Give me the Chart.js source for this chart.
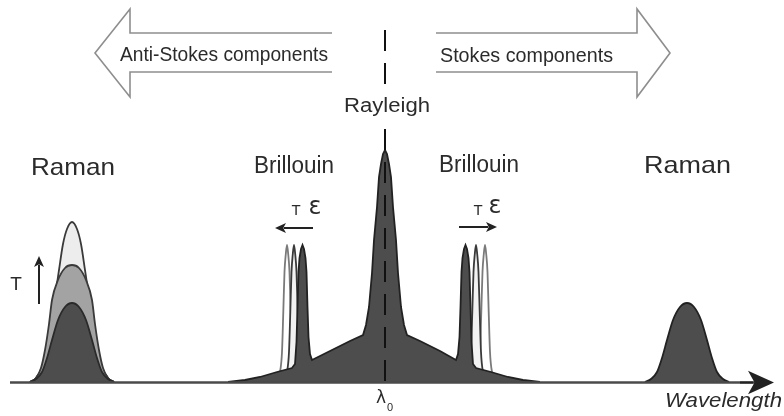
<!DOCTYPE html>
<html>
<head>
<meta charset="utf-8">
<script src="https://cdn.jsdelivr.net/npm/chart.js@4.4.1/dist/chart.umd.min.js"></script>
<style>
html, body { margin: 0; padding: 0; background: #fff; }
canvas { display: block; }
</style>
</head>
<body>
<canvas id="spectrum" width="784" height="416"></canvas>
<script>
// Raman anti-Stokes : trois températures (x = position en longueur d'onde, y = intensité)
const ramanAsHotX = [30, 36, 42, 47, 51, 55, 59, 63, 67, 72, 77, 81, 85, 89, 93, 97, 102, 108, 114];
const ramanAsHotY = [0, 4, 15, 36, 60, 85, 112, 138, 153, 160, 153, 138, 112, 85, 60, 36, 15, 4, 0];
const ramanAsMidX = [30, 36, 41, 45, 49, 52, 58, 65, 72, 79, 86, 92, 95, 99, 103, 108, 114];
const ramanAsMidY = [0, 4, 14, 32, 58, 82, 102, 114, 117, 114, 102, 82, 58, 32, 14, 4, 0];
const ramanAsColdX = [30, 36, 42, 47, 52, 58, 65, 72, 79, 86, 92, 97, 102, 108, 114];
const ramanAsColdY = [0, 3, 10, 24, 42, 62, 75, 79, 75, 62, 42, 24, 10, 3, 0];

// Raman Stokes
const ramanStX = [645, 651, 657, 662, 667, 673, 680, 687, 694, 701, 707, 712, 717, 723, 729];
const ramanStY = [0, 3, 10, 24, 42, 62, 75, 79, 75, 62, 42, 24, 10, 3, 0];

// Rayleigh + Brillouin (pic central, piédestal, pics Brillouin sombres)
const centralX = [228, 245, 260, 277, 292, 295, 296.5, 297.5, 298.5, 299.5, 301, 302.5, 304, 305.5, 306.5, 307.5, 308.5, 310, 312,
  330, 350, 363, 366, 369, 372, 374, 377, 379, 381, 383, 385, 387, 389, 391, 393, 396, 398, 401, 404, 407, 420, 440,
  456, 458, 459.5, 460.5, 461.5, 462.5, 464, 465.5, 467, 468.5, 469.5, 470.5, 471.5, 473, 476, 491, 508, 523, 540];
const centralY = [0, 2, 5, 10, 14, 18, 40, 75, 110, 124, 133, 137, 133, 124, 110, 75, 45, 28, 22,
  31, 41, 47, 57, 75, 109, 142, 175, 205, 218, 228, 232, 228, 218, 205, 175, 142, 109, 75, 57, 47, 41, 31,
  22, 28, 45, 75, 110, 124, 133, 137, 133, 124, 110, 75, 40, 18, 14, 10, 5, 2, 0];

// Pics Brillouin décalés (T, ε)
const brillPeakY = [0, 10, 30, 70, 110, 128, 137, 128, 110, 70, 30, 10, 0];
const brillAsFarX = [276, 280, 282, 283.3, 284.5, 285.8, 287, 288.2, 289.5, 290.7, 292, 294, 298];
const brillAsNearX = [283, 287, 289, 290.3, 291.5, 292.8, 294, 295.2, 296.5, 297.7, 299, 301, 305];
const brillStNearX = [465, 469, 471, 472.3, 473.5, 474.8, 476, 477.2, 478.5, 479.7, 481, 483, 487];
const brillStFarX = [474, 478, 480, 481.3, 482.5, 483.8, 485, 486.2, 487.5, 488.7, 490, 492, 496];

const rayleighPos = 385;
const texts = {
  antiStokes: 'Anti-Stokes components',
  stokes: 'Stokes components',
  rayleigh: 'Rayleigh',
  raman: 'Raman',
  brillouin: 'Brillouin',
  axis: 'Wavelength'
};

function pts(xs, ys) {
  return xs.map((x, i) => ({ x: x, y: ys[i] }));
}

function curve(xs, ys, fill, line, order, width) {
  return {
    data: pts(xs, ys),
    backgroundColor: fill,
    borderColor: line,
    borderWidth: width || 1.8,
    fill: 'origin',
    order: order
  };
}

// Texte ajusté à une largeur donnée
function fitText(ctx, str, cx, base, size, width, style, family) {
  ctx.save();
  ctx.font = (style || '') + ' ' + size + 'px ' + (family || '"Liberation Sans", Arial, sans-serif');
  const w = ctx.measureText(str).width;
  ctx.translate(cx, base);
  if (width) ctx.scale(width / w, 1);
  ctx.textAlign = 'center';
  ctx.textBaseline = 'alphabetic';
  ctx.fillStyle = '#2b2b2b';
  ctx.fillText(str, 0, 0);
  ctx.restore();
}

function bigArrow(ctx, p) {
  ctx.save();
  ctx.strokeStyle = '#8e8e8e';
  ctx.lineWidth = 1.6;
  ctx.lineJoin = 'miter';
  ctx.beginPath();
  ctx.moveTo(p[0][0], p[0][1]);
  for (let i = 1; i < p.length; i++) ctx.lineTo(p[i][0], p[i][1]);
  ctx.stroke();
  ctx.restore();
}

function smallArrow(ctx, x1, y1, x2, y2, head) {
  const a = Math.atan2(y2 - y1, x2 - x1);
  ctx.save();
  ctx.strokeStyle = '#222';
  ctx.fillStyle = '#222';
  ctx.lineWidth = 2;
  ctx.beginPath();
  ctx.moveTo(x1, y1);
  ctx.lineTo(x2 - Math.cos(a) * head * 0.8, y2 - Math.sin(a) * head * 0.8);
  ctx.stroke();
  ctx.translate(x2, y2);
  ctx.rotate(a);
  ctx.beginPath();
  ctx.moveTo(0, 0);
  ctx.lineTo(-head, -head * 0.45);
  ctx.lineTo(-head * 0.75, 0);
  ctx.lineTo(-head, head * 0.45);
  ctx.closePath();
  ctx.fill();
  ctx.restore();
}

const decor = {
  id: 'decor',
  beforeDraw(chart) {
    const ctx = chart.ctx;
    ctx.save();
    ctx.fillStyle = '#fff';
    ctx.fillRect(0, 0, chart.width, chart.height);
    ctx.restore();
  },
  afterDatasetsDraw(chart) {
    const ctx = chart.ctx;
    const xs = chart.scales.x, ys = chart.scales.y;
    const y0 = ys.getPixelForValue(0);

    // axe des longueurs d'onde
    ctx.save();
    ctx.strokeStyle = '#4a4a4a';
    ctx.lineWidth = 2.5;
    ctx.beginPath();
    ctx.moveTo(xs.getPixelForValue(10), y0 + 0.5);
    ctx.lineTo(xs.getPixelForValue(760), y0 + 0.5);
    ctx.stroke();
    ctx.restore();
    smallArrow(ctx, 740, y0 + 0.5, 774, y0 + 0.5, 26);

    // ligne pointillée Rayleigh
    const xr = xs.getPixelForValue(rayleighPos);
    ctx.save();
    ctx.strokeStyle = '#111';
    ctx.lineWidth = 2;
    ctx.setLineDash([21, 12]);
    ctx.beginPath();
    ctx.moveTo(xr, 30);
    ctx.lineTo(xr, y0);
    ctx.stroke();
    ctx.restore();
  },
  afterDraw(chart) {
    const ctx = chart.ctx;

    // flèches creuses
    bigArrow(ctx, [[332, 33], [130, 33], [130, 9], [95, 53], [130, 97], [130, 72], [332, 72]]);
    bigArrow(ctx, [[436, 33], [637, 33], [637, 9], [670, 53], [637, 97], [637, 72], [436, 72]]);

    fitText(ctx, texts.antiStokes, 224, 61, 21, 208);
    fitText(ctx, texts.stokes, 526.5, 62, 21, 173);

    ctx.save();
    ctx.fillStyle = '#fff';
    ctx.fillRect(340, 88, 92, 34);
    ctx.restore();
    fitText(ctx, texts.rayleigh, 387, 112, 20, 86);

    fitText(ctx, texts.raman, 73, 175, 24, 84);
    fitText(ctx, texts.brillouin, 294, 173, 23, 80);
    fitText(ctx, texts.brillouin, 479, 172, 23, 80);
    fitText(ctx, texts.raman, 687.5, 173, 24, 87);

    // T, ε
    fitText(ctx, 'T', 296, 215, 15);
    fitText(ctx, 'ε', 315, 214, 24, null, '', '"DejaVu Sans", sans-serif');
    smallArrow(ctx, 313, 228, 275, 228, 11);
    fitText(ctx, 'T', 478, 215, 15);
    fitText(ctx, 'ε', 495, 213, 24, null, '', '"DejaVu Sans", sans-serif');
    smallArrow(ctx, 459, 227, 497, 227, 11);

    fitText(ctx, 'T', 16, 290, 19);
    smallArrow(ctx, 39, 304, 39, 256, 11);

    fitText(ctx, texts.axis, 723.5, 407, 21, 117, 'italic');
    fitText(ctx, 'λ', 381, 403, 17, null, '', '"DejaVu Sans", sans-serif');
    fitText(ctx, '0', 390, 411, 11);
  }
};

const centralSet = curve(centralX, centralY, '#4d4d4d', '#222222', 1);
centralSet.tension = 0;
centralSet.cubicInterpolationMode = 'default';

new Chart(document.getElementById('spectrum'), {
  type: 'line',
  data: {
    datasets: [
      curve(ramanAsHotX, ramanAsHotY, '#ededed', '#3a3a3a', 10),
      curve(ramanAsMidX, ramanAsMidY, '#a3a3a3', '#3a3a3a', 9),
      curve(ramanAsColdX, ramanAsColdY, '#4d4d4d', '#2a2a2a', 8),
      curve(brillAsFarX, brillPeakY, '#ffffff', '#7a7a7a', 7, 1.8),
      curve(brillAsNearX, brillPeakY, '#f2f2f2', '#3a3a3a', 6, 1.8),
      curve(brillStFarX, brillPeakY, '#ffffff', '#7a7a7a', 7, 1.8),
      curve(brillStNearX, brillPeakY, '#f2f2f2', '#3a3a3a', 6, 1.8),
      centralSet,
      curve(ramanStX, ramanStY, '#4d4d4d', '#222222', 1)
    ]
  },
  options: {
    responsive: false,
    animation: false,
    events: [],
    layout: { padding: 0 },
    plugins: {
      legend: { display: false },
      tooltip: { enabled: false }
    },
    elements: {
      point: { radius: 0 },
      line: { cubicInterpolationMode: 'monotone' }
    },
    scales: {
      x: { type: 'linear', min: 0, max: 784, display: false },
      y: { min: -34, max: 382, display: false }
    }
  },
  plugins: [decor]
});
</script>
</body>
</html>
